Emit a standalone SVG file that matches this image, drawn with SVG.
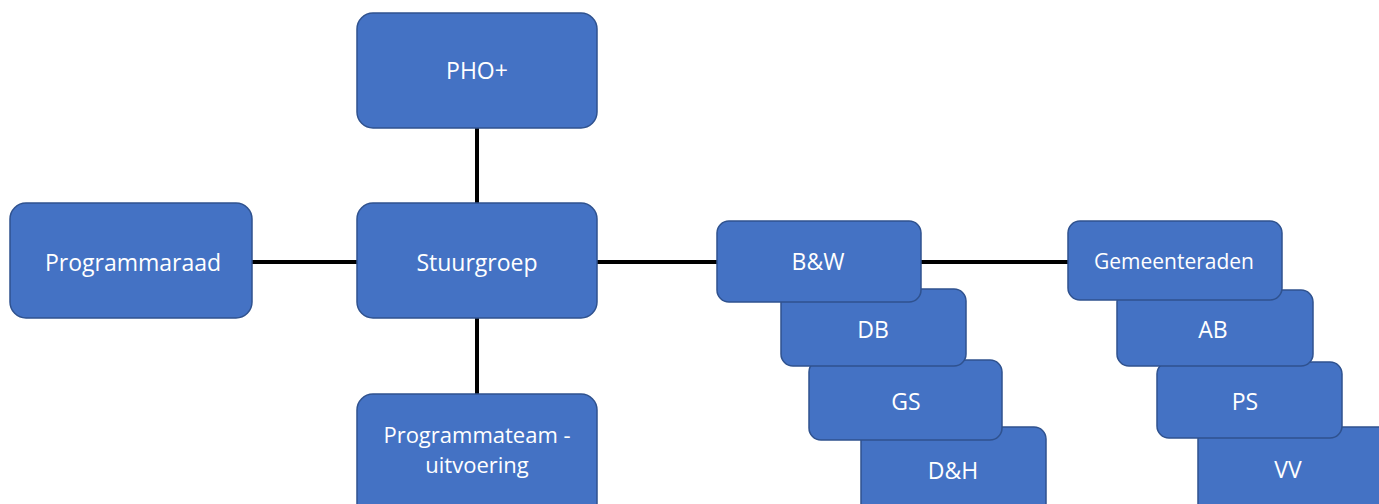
<svg xmlns="http://www.w3.org/2000/svg" width="1379" height="504" viewBox="0 0 1379 504">
<style>
.box{fill:#4472C4;stroke:#2F528F;stroke-width:1.5}
.t{fill:#ffffff;font-family:"Open Sans","Liberation Sans",sans-serif;font-size:23px;text-anchor:middle}
.s{font-size:21px}
.m{font-size:22px}
.c{stroke:#000;stroke-width:4;fill:none}
</style>
<rect width="1379" height="504" fill="#ffffff"/>
<g id="connectors">
<line class="c" x1="477" y1="128" x2="477" y2="203"/>
<line class="c" x1="477" y1="318" x2="477" y2="394"/>
<line class="c" x1="252" y1="262" x2="357" y2="262"/>
<line class="c" x1="597" y1="262" x2="717" y2="262"/>
<line class="c" x1="921" y1="262" x2="1069" y2="262"/>
</g>
<g id="pho">
<rect class="box" x="357" y="13" width="240" height="115" rx="16"/>
<text class="t" x="477" y="79">PHO+</text>
</g>
<g id="programmaraad">
<rect class="box" x="10" y="203" width="242" height="115" rx="16"/>
<text class="t" x="133" y="271">Programmaraad</text>
</g>
<g id="stuurgroep">
<rect class="box" x="357" y="203" width="240" height="115" rx="16"/>
<text class="t" x="477" y="271">Stuurgroep</text>
</g>
<g id="programmateam">
<rect class="box" x="357" y="394" width="240" height="125" rx="16"/>
<text class="t m" x="477" y="443">Programmateam -</text>
<text class="t m" x="477" y="473">uitvoering</text>
</g>
<g id="dh">
<rect class="box" x="861" y="427" width="185" height="90" rx="12"/>
<text class="t" x="953" y="479">D&amp;H</text>
</g>
<g id="gs">
<rect class="box" x="809" y="360" width="193" height="80" rx="12"/>
<text class="t" x="906" y="410">GS</text>
</g>
<g id="db">
<rect class="box" x="781" y="289" width="185" height="77" rx="12"/>
<text class="t" x="873" y="338">DB</text>
</g>
<g id="bw">
<rect class="box" x="717" y="221" width="204" height="81" rx="12"/>
<text class="t" x="818" y="270">B&amp;W</text>
</g>
<g id="vv">
<rect class="box" x="1198" y="427" width="195" height="90" rx="12"/>
<text class="t" x="1288" y="478">VV</text>
</g>
<g id="ps">
<rect class="box" x="1157" y="362" width="185" height="76" rx="12"/>
<text class="t" x="1245" y="410">PS</text>
</g>
<g id="ab">
<rect class="box" x="1117" y="290" width="196" height="76" rx="12"/>
<text class="t" x="1213" y="338">AB</text>
</g>
<g id="gemeenteraden">
<rect class="box" x="1068" y="221" width="214" height="79" rx="12"/>
<text class="t s" x="1174" y="269">Gemeenteraden</text>
</g>
</svg>
